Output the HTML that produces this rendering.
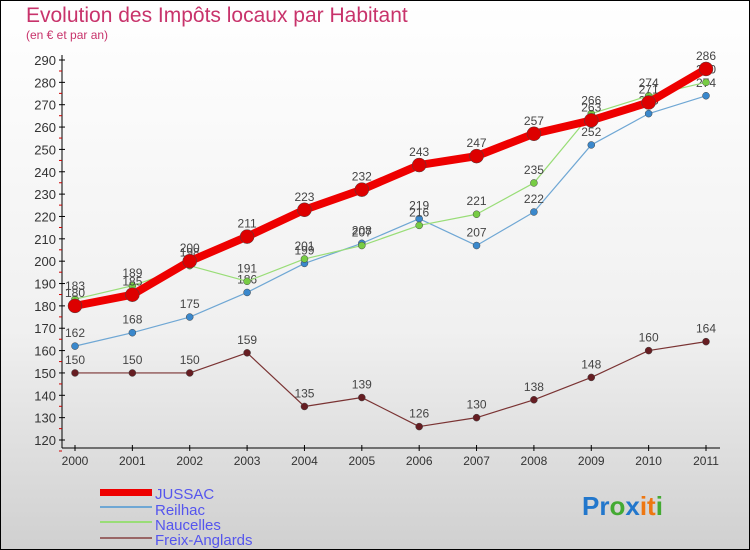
<!DOCTYPE html>
<html><head><meta charset="utf-8"><style>
body{margin:0}
#c{width:750px;height:550px;position:relative;box-sizing:border-box;border:1px solid #000;background:linear-gradient(#fff,#f0f0f0 60%,#d0d0d0);font-family:"Liberation Sans",sans-serif;overflow:hidden}
</style></head><body>
<div id="c">
<svg id="s" width="750" height="550" style="position:absolute;left:-1px;top:-1px">
<text x="26" y="22" font-size="21" fill="#c8336b">Evolution des Impôts locaux par Habitant</text>
<text x="26" y="39" font-size="12" fill="#c8336b">(en € et par an)</text>
<g id="axes"></g><g id="series"></g>
<g font-size="15" fill="#5555ee">
<rect x="100" y="489" width="52" height="7" fill="#ee0000"/>
<text x="155" y="499">JUSSAC</text>
<rect x="100" y="506" width="52" height="2" fill="#6fa7d4"/>
<text x="155" y="515">Reilhac</text>
<rect x="100" y="521" width="52" height="2" fill="#99dd77"/>
<text x="155" y="530">Naucelles</text>
<rect x="100" y="537" width="52" height="2" fill="#996666"/>
<text x="155" y="545">Freix-Anglards</text>
</g>
<text x="582" y="515" font-size="26" font-weight="bold"><tspan fill="#2277cc">Pr</tspan><tspan fill="#44aa33">o</tspan><tspan fill="#2277cc">x</tspan><tspan fill="#ee7711">it</tspan><tspan fill="#44aa33">i</tspan></text>
</svg>
</div>
<script>
const years=[2000,2001,2002,2003,2004,2005,2006,2007,2008,2009,2010,2011];
const jussac=[180,185,200,211,223,232,243,247,257,263,271,286];
const reilhac=[162,168,175,186,199,208,219,207,222,252,266,274];
const naucelles=[183,189,198,191,201,207,216,221,235,266,274,280];
const freix=[150,150,150,159,135,139,126,130,138,148,160,164];
const yTicks=[120,130,140,150,160,170,180,190,200,210,220,230,240,250,260,270,280,290];
const NS="http://www.w3.org/2000/svg";
const X=i=>75+i*(706-75)/(years.length-1);
const Y=v=>440-(v-120)*380/170;
function mk(t,a,p){const e=document.createElementNS(NS,t);for(const k in a)e.setAttribute(k,a[k]);p.appendChild(e);return e;}
const ax=document.getElementById('axes');
const yl=mk('line',{x1:62,y1:55,x2:62,y2:448,stroke:'#000'},ax);


const xl=mk('line',{x1:62,y1:448,x2:720,y2:448,stroke:'#000'},ax);


yTicks.forEach(v=>{
 mk('line',{x1:59,x2:65,y1:Y(v),y2:Y(v),stroke:'#000'},ax);
 mk('line',{x1:59,x2:62,y1:Y(v)+11,y2:Y(v)+11,stroke:'#cc0000'},ax);
 const t=mk('text',{x:56,y:Y(v)+5,'text-anchor':'end','font-size':13,fill:'#333'},ax);t.textContent=v;
 
 
});
years.forEach((y,i)=>{
 mk('line',{x1:X(i),x2:X(i),y1:445,y2:451,stroke:'#000'},ax);
 const t=mk('text',{x:X(i),y:465,'text-anchor':'middle','font-size':12,fill:'#333'},ax);t.textContent=y;
 
 
});
const sg=document.getElementById('series');
function series(d,col,w,r,dot,name){
 const g=mk('g',{},sg);
 
 
 const pl=mk('polyline',{points:d.map((v,i)=>X(i)+','+Y(v)).join(' '),fill:'none',stroke:col,'stroke-width':w,'stroke-linejoin':'round'},g);
 
 
 d.forEach((v,i)=>{
  const c=mk('circle',{cx:X(i),cy:Y(v),r:r,fill:dot,stroke:'#444','stroke-width':0.5},g);
  
  
  const t=mk('text',{x:X(i),y:Y(v)-9,'text-anchor':'middle','font-size':12,fill:'#444'},g);t.textContent=v;
  
  
 });
}
series(freix,'#7a3333',1.2,3.5,'#661d22','freix-anglards');
series(reilhac,'#6fa7d4',1.2,3.5,'#3a88cc','reilhac');
series(naucelles,'#99dd77',1.2,3.5,'#77cc44','naucelles');
series(jussac,'#ee0000',8,7,'#dd0000','jussac');
</script>
</body></html>
